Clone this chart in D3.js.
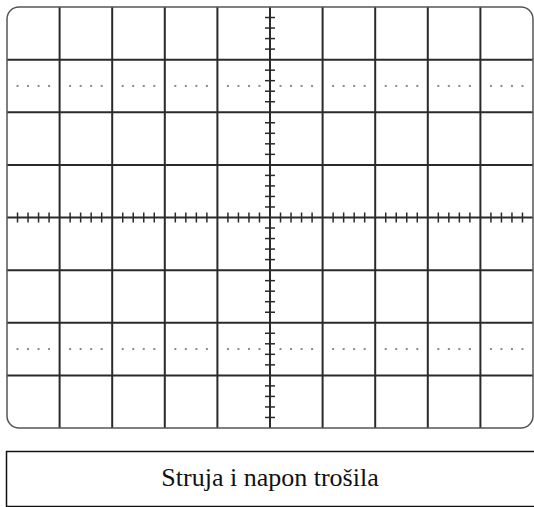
<!DOCTYPE html>
<html>
<head>
<meta charset="utf-8">
<script src="https://cdn.jsdelivr.net/npm/d3@7"></script>
<style>
  body { margin: 0; background: #fff; }
  svg { display: block; }
</style>
</head>
<body>
<svg></svg>
<script>
var width = 534
var height = 507

// screen divisions (major grid) and the rows that carry dotted guides
var xDivs = [-5, -4, -3, -2, -1, 0, 1, 2, 3, 4, 5]
var yDivs = [-4, -3, -2, -1, 0, 1, 2, 3, 4]
var dottedRows = [2.5, -2.5]
var minorStep = 0.2
var caption = "Struja i napon trošila"

var gLeft = 7, gRight = 533, gTop = 7, gBottom = 428

var x = d3.scaleLinear().domain([-5, 5]).range([gLeft, gRight])
var y = d3.scaleLinear().domain([4, -4]).range([gTop, gBottom])

// minor positions between the major lines
var xMinor = d3.range(-5, 5.0001, minorStep).filter(v => Math.abs(v - Math.round(v)) > 1e-6)
var yMinor = d3.range(-4, 4.0001, minorStep).filter(v => Math.abs(v - Math.round(v)) > 1e-6)

var svg = d3.select("svg")
  .attr("width", width)
  .attr("height", height)

var grid = svg.append("g")

// inner vertical lines
grid.selectAll(null)
  .data(xDivs.slice(1, -1))
  .enter()
    .append("line")
    .attr("x1", d => x(d)).attr("x2", d => x(d))
    .attr("y1", gTop).attr("y2", gBottom)
    .attr("stroke", "#2a2a2a")
    .attr("stroke-width", 2)

// inner horizontal lines
grid.selectAll(null)
  .data(yDivs.slice(1, -1))
  .enter()
    .append("line")
    .attr("x1", gLeft).attr("x2", gRight)
    .attr("y1", d => y(d)).attr("y2", d => y(d))
    .attr("stroke", "#2a2a2a")
    .attr("stroke-width", 2)

// dotted guide rows
dottedRows.forEach(function(r) {
  grid.selectAll(null)
    .data(xMinor)
    .enter()
      .append("rect")
      .attr("x", d => x(d) - 1)
      .attr("y", y(r) - 1)
      .attr("width", 2)
      .attr("height", 2)
      .attr("fill", "#8a8a8a")
})

// minor ticks on the central axes
grid.selectAll(null)
  .data(yMinor)
  .enter()
    .append("line")
    .attr("x1", x(0) - 5).attr("x2", x(0) + 5)
    .attr("y1", d => y(d)).attr("y2", d => y(d))
    .attr("stroke", "#2a2a2a")
    .attr("stroke-width", 1.5)

grid.selectAll(null)
  .data(xMinor)
  .enter()
    .append("line")
    .attr("x1", d => x(d)).attr("x2", d => x(d))
    .attr("y1", y(0) - 5).attr("y2", y(0) + 5)
    .attr("stroke", "#2a2a2a")
    .attr("stroke-width", 1.5)

// rounded outer frame
svg.append("rect")
  .attr("x", gLeft)
  .attr("y", gTop)
  .attr("width", gRight - gLeft)
  .attr("height", gBottom - gTop)
  .attr("rx", 12)
  .attr("fill", "none")
  .attr("stroke", "#555")
  .attr("stroke-width", 1.5)

// caption box
svg.append("rect")
  .attr("x", 6.5)
  .attr("y", 451.5)
  .attr("width", 540)
  .attr("height", 55)
  .attr("fill", "none")
  .attr("stroke", "#111")
  .attr("stroke-width", 1.5)

svg.append("text")
  .attr("x", x(0))
  .attr("y", 486)
  .attr("text-anchor", "middle")
  .attr("font-family", "'Liberation Serif', 'Times New Roman', serif")
  .attr("font-size", 26)
  .attr("fill", "#111")
  .text(caption)
</script>
</body>
</html>
